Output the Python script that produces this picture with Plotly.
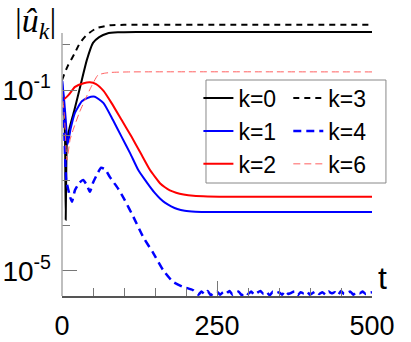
import plotly.graph_objects as go

# |u_k| versus t (log axis)
t_k0 = [0, 2, 4, 5, 6, 7, 8, 12, 20, 30, 40, 50, 60, 73, 90, 120, 500]
u_k0 = [0.112, 0.0708, 0.0251, 0.0063, 1.35e-4, 0.00251, 0.00794, 0.0141,
        0.0363, 0.129, 0.457, 1.10, 1.48, 1.78, 1.88, 1.91, 1.91]

t_k3 = [0, 2, 5, 10, 20, 29, 40, 56, 77, 100, 500]
u_k3 = [0.166, 0.195, 0.251, 0.355, 0.631, 1.10, 1.66, 2.34, 2.69, 2.75, 2.75]

t_k1 = [0, 3, 6, 9, 14, 21, 32, 42, 53, 67, 82, 96, 110, 123, 133, 142, 150,
        158, 166, 176, 186, 198, 215, 240, 500]
u_k1 = [0.166, 0.0708, 0.0224, 0.0063, 0.0141, 0.0316, 0.0562, 0.0676, 0.0708,
        0.0513, 0.0219, 0.00933, 0.00398, 0.0017, 0.00107, 7.24e-4, 5.25e-4,
        4.0e-4, 3.24e-4, 2.69e-4, 2.34e-4, 2.14e-4, 2.04e-4, 2.0e-4, 2.0e-4]

t_k4 = [0, 3, 7, 13, 16, 21, 28, 34, 40, 45, 50, 56, 63, 70, 77, 90, 101, 115,
        131, 147, 163, 179, 195, 211]
u_k4 = [0.158, 0.0251, 0.001, 4.37e-4, 3.39e-4, 6.17e-4, 8.91e-4, 1.02e-3,
        7.94e-4, 5.62e-4, 8.91e-4, 1.32e-3, 1.91e-3, 1.74e-3, 1.2e-3, 6.76e-4,
        3.72e-4, 1.58e-4, 5.62e-5, 2.51e-5, 1.05e-5, 5.75e-6, 4.47e-6, 3.8e-6]
# noisy floor of k=4, t = 215 ... 500
t_k4_tail = list(range(215, 501, 5))
u_k4_tail = [3.4e-6, 3.0e-6, 3.5e-6, 3.1e-6, 3.6e-6, 2.9e-6, 3.3e-6, 3.5e-6,
             3.0e-6, 3.4e-6, 3.2e-6, 3.6e-6, 3.0e-6, 3.3e-6, 3.5e-6, 2.9e-6,
             3.4e-6, 3.1e-6, 3.5e-6, 3.0e-6, 3.3e-6, 3.6e-6, 3.1e-6, 3.4e-6,
             2.9e-6, 3.5e-6, 3.2e-6, 3.4e-6, 3.0e-6, 3.6e-6, 3.1e-6, 3.3e-6,
             3.5e-6, 2.9e-6, 3.4e-6, 3.2e-6, 3.5e-6, 3.0e-6, 3.3e-6, 3.6e-6,
             3.1e-6, 3.4e-6, 3.0e-6, 3.5e-6, 3.2e-6, 3.4e-6, 2.9e-6, 3.6e-6,
             3.1e-6, 3.3e-6, 3.5e-6, 3.0e-6, 3.4e-6, 3.2e-6, 3.5e-6, 3.1e-6,
             3.3e-6, 3.4e-6]

t_k2 = [0, 3, 10, 21, 35, 45, 55, 67, 80, 96, 112, 127, 142, 150, 158, 166,
        174, 184, 196, 212, 235, 270, 500]
u_k2 = [0.0708, 0.0631, 0.0759, 0.117, 0.141, 0.148, 0.135, 0.0955, 0.0513,
        0.0219, 0.00933, 0.00398, 0.0017, 0.0012, 8.71e-4, 7.08e-4, 6.03e-4,
        5.37e-4, 4.9e-4, 4.57e-4, 4.42e-4, 4.37e-4, 4.37e-4]

t_k6 = [0, 4, 8, 13, 18, 28, 37, 47, 58, 68, 80, 110, 500]
u_k6 = [0.1, 0.0251, 0.00282, 0.00794, 0.0132, 0.0316, 0.0603, 0.117, 0.214,
        0.234, 0.245, 0.251, 0.251]

FONT = "Liberation Sans, Arial, sans-serif"

fig = go.Figure()

def add(t, u, name, color, dash, width, legend):
    fig.add_trace(go.Scatter(
        x=t, y=u, name=name, mode="lines", legend=legend,
        line=dict(color=color, dash=dash, width=width, shape="spline", smoothing=0.5),
    ))

add(t_k0, u_k0, "k=0", "black", "solid", 2, "legend")
add(t_k1, u_k1, "k=1", "#0000ff", "solid", 2, "legend")
add(t_k2, u_k2, "k=2", "#ff0000", "solid", 2, "legend")
add(t_k3, u_k3, "k=3", "black", "6px,5px", 2, "legend2")
add(t_k4 + t_k4_tail, u_k4 + u_k4_tail, "k=4", "#0000ff", "8px,5px", 2.5, "legend2")
add(t_k6, u_k6, "k=6", "#ff6060", "7px,4px", 1, "legend2")

legend_style = dict(
    font=dict(family=FONT, size=23, color="black"),
    bgcolor="rgba(0,0,0,0)", borderwidth=0, tracegroupgap=0,
    yanchor="top", xanchor="left", itemwidth=30,
)

fig.update_layout(
    width=411, height=342,
    margin=dict(l=62, r=39, t=20, b=46),
    plot_bgcolor="white", paper_bgcolor="white",
    showlegend=True,
    legend=dict(x=0.44, y=0.795, **legend_style),
    legend2=dict(x=0.73, y=0.795, **legend_style),
    font=dict(family=FONT, color="black"),
    xaxis=dict(
        range=[0, 500], showgrid=False, zeroline=False, automargin=False,
        showline=True, linecolor="#555", linewidth=1.5,
        ticks="inside", ticklen=15, tickcolor="#777", tickwidth=1,
        tickvals=[0, 250, 500], ticktext=["0", "250", "500"],
        tickfont=dict(size=27, family=FONT), ticklabelstandoff=5,
        minor=dict(tickvals=[50, 100, 150, 200, 300, 350, 400, 450],
                   ticks="inside", ticklen=8, tickcolor="#777"),
    ),
    yaxis=dict(
        type="log", range=[-5.553, 0.547], showgrid=False, zeroline=False,
        showline=False, automargin=False,
        ticks="inside", ticklen=15, tickcolor="#777", tickwidth=1,
        tickvals=[1e-1, 1e-5], ticktext=["10<sup>-1</sup>", "10<sup>-5</sup>"],
        tickfont=dict(size=28, family=FONT), ticklabelstandoff=10,
        minor=dict(tickvals=[1, 1e-2, 1e-3, 1e-4],
                   ticks="inside", ticklen=8, tickcolor="#777"),
    ),
    shapes=[
        dict(type="line", xref="paper", yref="paper", x0=0, x1=0, y0=0, y1=0.953,
             line=dict(color="#aaa", width=1.5)),
        dict(type="rect", xref="paper", yref="paper", x0=0.4645, x1=1.045,
             y0=0.4094, y1=0.7826, line=dict(color="#888", width=1),
             fillcolor="white", layer="above"),
    ],
    annotations=[
        dict(text="|<i>û</i><sub><i>k</i></sub>|", xref="paper", yref="paper",
             x=-0.085, y=0.99, xanchor="center", yanchor="middle", showarrow=False,
             font=dict(family="Liberation Serif, serif", size=34)),
        dict(text="t", xref="paper", yref="paper", x=1.035, y=0.065,
             xanchor="center", yanchor="middle",
             showarrow=False, font=dict(family=FONT, size=32)),
    ],
)

# drop the default 8px page margin so the figure fills the window
fig.write_html("out.html", config={"displayModeBar": False},
               post_script="document.body.style.margin='0px';")
